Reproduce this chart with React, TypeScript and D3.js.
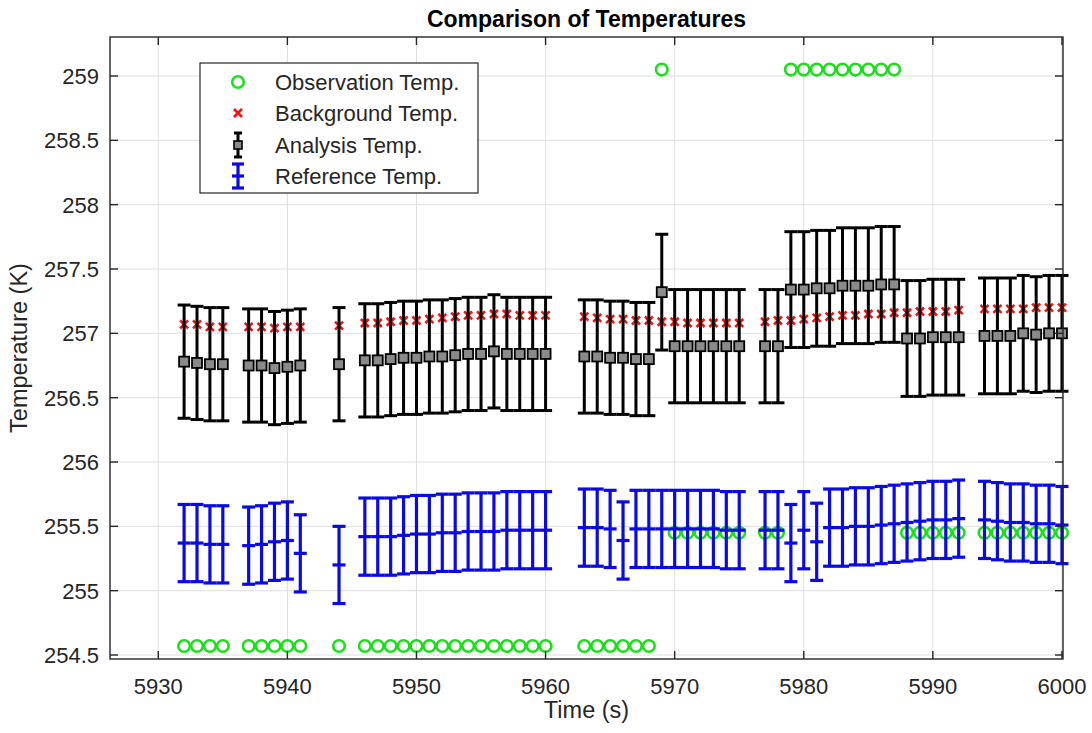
import React from "react";
import * as d3 from "d3";

// time stamps (s) that carry data
const times = [
  5932, 5933, 5934, 5935,
  5937, 5938, 5939, 5940, 5941,
  5944,
  5946, 5947, 5948, 5949, 5950, 5951, 5952, 5953, 5954, 5955, 5956, 5957, 5958, 5959, 5960,
  5963, 5964, 5965, 5966, 5967, 5968, 5969, 5970, 5971, 5972, 5973, 5974, 5975,
  5977, 5978, 5979, 5980, 5981, 5982, 5983, 5984, 5985, 5986, 5987, 5988, 5989, 5990, 5991, 5992,
  5994, 5995, 5996, 5997, 5998, 5999, 6000,
];

const obsTemp = [
  254.57, 254.57, 254.57, 254.57,
  254.57, 254.57, 254.57, 254.57, 254.57,
  254.57,
  254.57, 254.57, 254.57, 254.57, 254.57, 254.57, 254.57, 254.57, 254.57, 254.57, 254.57, 254.57, 254.57, 254.57, 254.57,
  254.57, 254.57, 254.57, 254.57, 254.57, 254.57, 259.05, 255.45, 255.45, 255.45, 255.45, 255.45, 255.45,
  255.45, 255.45, 259.05, 259.05, 259.05, 259.05, 259.05, 259.05, 259.05, 259.05, 259.05, 255.45, 255.45, 255.45, 255.45, 255.45,
  255.45, 255.45, 255.45, 255.45, 255.45, 255.45, 255.45,
];

const bgTemp = [
  257.07, 257.07, 257.05, 257.05,
  257.05, 257.05, 257.04, 257.05, 257.05,
  257.06,
  257.08, 257.08, 257.09, 257.1, 257.1, 257.11, 257.12, 257.13, 257.14, 257.14, 257.15, 257.15, 257.14, 257.14, 257.14,
  257.13, 257.12, 257.11, 257.11, 257.1, 257.1, 257.09, 257.09, 257.08, 257.08, 257.08, 257.08, 257.08,
  257.09, 257.1, 257.1, 257.11, 257.12, 257.13, 257.14, 257.14, 257.15, 257.15, 257.16, 257.16, 257.17, 257.17, 257.17, 257.18,
  257.19, 257.19, 257.19, 257.19, 257.2, 257.2, 257.2,
];

const anaTemp = [
  256.78, 256.77, 256.76, 256.76,
  256.75, 256.75, 256.73, 256.74, 256.75,
  256.76,
  256.79, 256.79, 256.8, 256.81, 256.81, 256.82, 256.82, 256.83, 256.84, 256.84, 256.86, 256.84, 256.84, 256.84, 256.84,
  256.82, 256.82, 256.81, 256.81, 256.8, 256.8, 257.32, 256.9, 256.9, 256.9, 256.9, 256.9, 256.9,
  256.9, 256.9, 257.34, 257.34, 257.35, 257.35, 257.37, 257.37, 257.37, 257.38, 257.38, 256.96, 256.96, 256.97, 256.97, 256.97,
  256.98, 256.98, 256.98, 257.0, 256.99, 257.0, 257.0,
];

const anaErr = [
  0.44, 0.44, 0.44, 0.44,
  0.44, 0.44, 0.44, 0.44, 0.44,
  0.44,
  0.44, 0.44, 0.44, 0.44, 0.44, 0.44, 0.44, 0.44, 0.44, 0.44, 0.44, 0.44, 0.44, 0.44, 0.44,
  0.44, 0.44, 0.44, 0.44, 0.44, 0.44, 0.45, 0.44, 0.44, 0.44, 0.44, 0.44, 0.44,
  0.44, 0.44, 0.45, 0.45, 0.45, 0.45, 0.45, 0.45, 0.45, 0.45, 0.45, 0.45, 0.45, 0.45, 0.45, 0.45,
  0.45, 0.45, 0.45, 0.45, 0.45, 0.45, 0.45,
];

const refTemp = [
  255.37, 255.37, 255.36, 255.36,
  255.35, 255.36, 255.38, 255.39, 255.29,
  255.2,
  255.42, 255.42, 255.42, 255.43, 255.44, 255.44, 255.45, 255.45, 255.46, 255.46, 255.46, 255.47, 255.47, 255.47, 255.47,
  255.49, 255.49, 255.48, 255.39, 255.48, 255.48, 255.48, 255.48, 255.48, 255.48, 255.48, 255.47, 255.47,
  255.47, 255.47, 255.37, 255.47, 255.38, 255.49, 255.49, 255.5, 255.5, 255.51, 255.52, 255.53, 255.54, 255.55, 255.55, 255.56,
  255.55, 255.54, 255.53, 255.53, 255.52, 255.52, 255.51,
];

const refErr = [
  0.3, 0.3, 0.3, 0.3,
  0.3, 0.3, 0.3, 0.3, 0.3,
  0.3,
  0.3, 0.3, 0.3, 0.3, 0.3, 0.3, 0.3, 0.3, 0.3, 0.3, 0.3, 0.3, 0.3, 0.3, 0.3,
  0.3, 0.3, 0.3, 0.3, 0.3, 0.3, 0.3, 0.3, 0.3, 0.3, 0.3, 0.3, 0.3,
  0.3, 0.3, 0.3, 0.3, 0.3, 0.3, 0.3, 0.3, 0.3, 0.3, 0.3, 0.3, 0.3, 0.3, 0.3, 0.3,
  0.3, 0.3, 0.3, 0.3, 0.3, 0.3, 0.3,
];

const xTicks = [5930, 5940, 5950, 5960, 5970, 5980, 5990, 6000];
const yTicks = [254.5, 255, 255.5, 256, 256.5, 257, 257.5, 258, 258.5, 259];

const legendItems = ["Observation Temp.", "Background Temp.", "Analysis Temp.", "Reference Temp."];

const FONT = "'Liberation Sans', Arial, Helvetica, sans-serif";
const AXIS = "#262626";
const GREEN = "#19e019";
const RED = "#f01414";
const BLUE = "#0a0ae6";

export default function App() {
  const W = 1092, H = 733;
  const left = 110, right = 1063, top = 37, bottom = 659;

  const x = d3.scaleLinear().domain([5926.26, 6000.08]).range([left, right]);
  const y = d3.scaleLinear().domain([254.469, 259.303]).range([bottom, top]);

  const capW = 13;
  const tickLen = 8;

  // matlab-like errorbar, no connecting line
  const errorBars = (vals: number[], errs: number[], color: string, lw: number, key: string, plus: boolean) => (
    <g key={key} stroke={color} strokeWidth={lw} fill="none">
      {times.map((t, i) => {
        const cx = x(t);
        const y1 = y(vals[i] + errs[i]);
        const y2 = y(vals[i] - errs[i]);
        const yc = y(vals[i]);
        return (
          <g key={i}>
            <line x1={cx} x2={cx} y1={y1} y2={y2} />
            <line x1={cx - capW / 2} x2={cx + capW / 2} y1={y1} y2={y1} />
            <line x1={cx - capW / 2} x2={cx + capW / 2} y1={y2} y2={y2} />
            {plus && <line x1={cx - capW / 2} x2={cx + capW / 2} y1={yc} y2={yc} />}
          </g>
        );
      })}
    </g>
  );

  const cross = (cx: number, cy: number, s: number, key: string | number) => (
    <path key={key} d={`M${cx - s},${cy - s}L${cx + s},${cy + s}M${cx - s},${cy + s}L${cx + s},${cy - s}`} />
  );

  const lgX = 200, lgY = 63, lgW = 278, lgH = 130;
  const rowY = [82, 113, 145, 176];
  const mkX = 238;

  return (
    <svg width={W} height={H} style={{ position: "absolute", left: 0, top: 0, background: "#fff" }} fontFamily={FONT}>
      <rect x={0} y={0} width={W} height={H} fill="#fff" />

      {/* grid */}
      <g stroke="#dfdfdf" strokeWidth={1}>
        {xTicks.map((t) => (
          <line key={t} x1={x(t)} x2={x(t)} y1={top} y2={bottom} />
        ))}
        {yTicks.map((t) => (
          <line key={t} x1={left} x2={right} y1={y(t)} y2={y(t)} />
        ))}
      </g>

      {/* observations */}
      <g stroke={GREEN} strokeWidth={2.6} fill="none">
        {times.map((t, i) => (
          <circle key={i} cx={x(t)} cy={y(obsTemp[i])} r={5.8} />
        ))}
      </g>

      {/* background */}
      <g stroke={RED} strokeWidth={2.6}>
        {times.map((t, i) => cross(x(t), y(bgTemp[i]), 4, i))}
      </g>

      {/* analysis */}
      {errorBars(anaTemp, anaErr, "#000", 3, "ana", false)}
      <g stroke="#000" strokeWidth={1.8} fill="#8a8a8a">
        {times.map((t, i) => (
          <rect key={i} x={x(t) - 5} y={y(anaTemp[i]) - 5} width={10} height={10} />
        ))}
      </g>

      {/* reference */}
      {errorBars(refTemp, refErr, BLUE, 3.2, "ref", true)}

      {/* axes box and ticks */}
      <g stroke={AXIS} strokeWidth={1.4} fill="none">
        <rect x={left} y={top} width={right - left} height={bottom - top} />
        {xTicks.map((t) => (
          <g key={t}>
            <line x1={x(t)} x2={x(t)} y1={bottom} y2={bottom - tickLen} />
            <line x1={x(t)} x2={x(t)} y1={top} y2={top + tickLen} />
          </g>
        ))}
        {yTicks.map((t) => (
          <g key={t}>
            <line x1={left} x2={left + tickLen} y1={y(t)} y2={y(t)} />
            <line x1={right} x2={right - tickLen} y1={y(t)} y2={y(t)} />
          </g>
        ))}
      </g>

      <g fill={AXIS} fontSize={22}>
        {xTicks.map((t) => (
          <text key={t} x={x(t)} y={694} textAnchor="middle">
            {t}
          </text>
        ))}
        {yTicks.map((t) => (
          <text key={t} x={99} y={y(t) + 8} textAnchor="end">
            {String(t)}
          </text>
        ))}
      </g>
      <g fill={AXIS} fontSize={23.5}>
        <text x={(left + right) / 2} y={718} textAnchor="middle">
          Time (s)
        </text>
        <text transform={`translate(27,${(top + bottom) / 2}) rotate(-90)`} textAnchor="middle">
          Temperature (K)
        </text>
      </g>

      <text x={(left + right) / 2} y={27} textAnchor="middle" fontSize={23} fontWeight="bold" fill="#000">
        Comparison of Temperatures
      </text>

      {/* legend */}
      <g>
        <rect x={lgX} y={lgY} width={lgW} height={lgH} fill="#fff" stroke={AXIS} strokeWidth={1.2} />
        <circle cx={mkX} cy={rowY[0]} r={5.8} fill="none" stroke={GREEN} strokeWidth={2.6} />
        <g stroke={RED} strokeWidth={2.6}>{cross(mkX, rowY[1], 4, "lg")}</g>
        <g stroke="#000" strokeWidth={3}>
          <line x1={mkX} x2={mkX} y1={rowY[2] - 12} y2={rowY[2] + 12} />
          <line x1={mkX - 4} x2={mkX + 4} y1={rowY[2] - 12} y2={rowY[2] - 12} />
          <line x1={mkX - 4} x2={mkX + 4} y1={rowY[2] + 12} y2={rowY[2] + 12} />
        </g>
        <rect x={mkX - 4} y={rowY[2] - 4} width={8} height={8} fill="#8a8a8a" stroke="#000" strokeWidth={1.6} />
        <g stroke={BLUE} strokeWidth={3.2}>
          <line x1={mkX} x2={mkX} y1={rowY[3] - 12} y2={rowY[3] + 12} />
          <line x1={mkX - 6} x2={mkX + 6} y1={rowY[3] - 12} y2={rowY[3] - 12} />
          <line x1={mkX - 6} x2={mkX + 6} y1={rowY[3] + 12} y2={rowY[3] + 12} />
          <line x1={mkX - 6} x2={mkX + 6} y1={rowY[3]} y2={rowY[3]} />
        </g>
        {legendItems.map((s, i) => (
          <text key={s} x={275} y={rowY[i] + 8} fontSize={22} fill={AXIS}>
            {s}
          </text>
        ))}
      </g>
    </svg>
  );
}
